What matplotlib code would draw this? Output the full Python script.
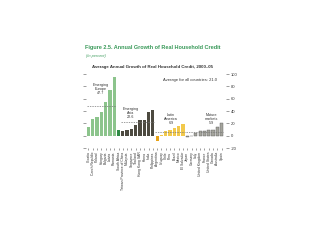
import matplotlib
matplotlib.use("Agg")
import matplotlib.pyplot as plt

plt.rcParams['font.family'] = ['Liberation Sans', 'DejaVu Sans']

europe_names = ["Croatia", "Czech Republic", "Poland", "Hungary", "Bulgaria", "Latvia", "Romania"]
europe_vals = [15, 28, 30, 38, 54, 74, 96]
other_names = ["South Africa"]
other_vals = [9]
asia_names = ["Taiwan Province of China", "Malaysia", "Singapore", "Thailand", "Hong Kong SAR",
              "Korea", "India", "Philippines"]
asia_vals = [7, 10, 11, 17, 25, 25, 38, 42]
latam_names = ["Argentina", "Uruguay", "Chile", "Peru", "Brazil", "Mexico", "El Salvador"]
latam_vals = [-9, 0.5, 7.6, 10, 12, 15.6, 18.4]
mature_names = ["Japan", "Germany", "Italy", "United Kingdom", "France", "United States",
                "Canada", "Australia", "Spain"]
mature_vals = [-1.5, -1.0, 4, 7.6, 7.6, 8.7, 10, 15, 21]

group_avgs = {"Emerging\nEurope\n47.7": 47.7, "Emerging\nAsia\n22.6": 22.6,
              "Latin\nAmerica\n6.9": 6.9, "Mature\nmarkets\n5.9": 5.9}
yticks = [-20, 0, 20, 40, 60, 80, 100]

fig = plt.figure(figsize=(3.2, 2.4), dpi=100)
ax = fig.add_axes([0.269, 0.383, 0.437, 0.308])

groups = [
    (europe_names, europe_vals, "#8cc48c", None),
    (other_names, other_vals, "#2f8a45", None),
    (asia_names, asia_vals, "#4d4a40", None),
    (latam_names, latam_vals, "#f2c94c", None),
    (mature_names, mature_vals, "#a4a49c", "#5e5e5e"),
]
names = []
pos = 0
spans = []
for nm, vals, col, ec in groups:
    xs = list(range(pos, pos + len(vals)))
    cols = [col] * len(vals)
    if nm is latam_names:
        cols = ["#e8a317" if v < 0 else col for v in vals]
    ax.bar(xs, vals, width=0.75, color=cols, edgecolor=ec if ec else 'none', linewidth=0.3)
    spans.append((xs[0], xs[-1]))
    names += nm
    pos += len(vals)

avg_spans = [spans[0], spans[2], spans[3], spans[4]]
label_pos = [(2.9, 86), (9.9, 46), (19.2, 37), (28.6, 37)]
for (lab, v), (a, b), (lx, ly) in zip(group_avgs.items(), avg_spans, label_pos):
    ax.plot([a - 0.4, b + 0.4], [v, v], ls=(0, (2, 1.5)), color="#777777", lw=0.5)
    ax.text(lx, ly, lab, ha='center', va='top', fontsize=2.7, color="#333333", linespacing=1.0)

ax.text(23.7, 91, "Average for all countries: 21.0", ha='center', va='center',
        fontsize=3.0, color="#333333")

ax.set_xlim(-0.55, 32.0)
ax.set_ylim(-20, 100)
ax.set_xticks(range(len(names)))
ax.set_xticklabels(names, rotation=90, fontsize=2.4, color="#333333")
ax.yaxis.tick_right()
ax.set_yticks(yticks)
ax.set_yticklabels([str(t) for t in yticks], fontsize=3.0, color="#333333")
ax.tick_params(axis='y', which='both', left=True, right=True, length=2.5, width=0.4,
               color="#555555", pad=1)
ax.tick_params(axis='x', length=1.5, width=0.4, color="#555555", pad=1)
for s in ax.spines.values():
    s.set_visible(False)

fig.text(0.266, 0.80, "Figure 2.5. Annual Growth of Real Household Credit", fontsize=4.0,
         fontweight='bold', color="#3a9a5a", va='center')
fig.text(0.27, 0.767, "(In percent)", fontsize=2.8, style='italic', color="#3a9a5a", va='center')
fig.text(0.2875, 0.72, "Average Annual Growth of Real Household Credit, 2000\u201305", fontsize=3.2,
         fontweight='bold', color="#333333", va='center')

fig.savefig("out.png", dpi=100)
